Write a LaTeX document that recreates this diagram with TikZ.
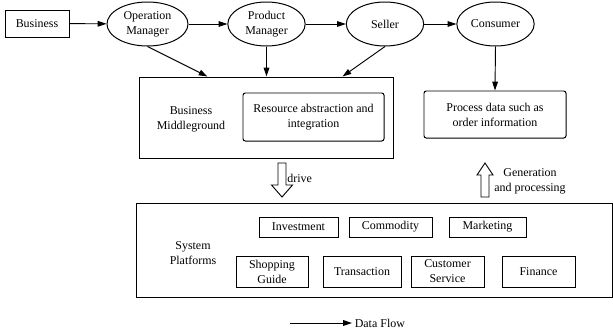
\documentclass[tikz,border=0pt]{standalone}
\usepackage{fontspec}
\setmainfont{Liberation Serif}
\usetikzlibrary{arrows.meta,shapes,positioning}
\tikzset{
  box/.style={draw,line width=0.85pt,inner sep=1pt,align=center},
  oval/.style={draw,ellipse,line width=0.85pt,inner sep=0pt,align=center,minimum width=2.32cm,minimum height=1.32cm},
  flow/.style={-{Triangle[length=7.5pt,width=4.8pt]},line width=0.8pt}
}
\begin{document}
\begin{tikzpicture}[x=0.03cm,y=-0.03cm,font=\fontsize{10.2}{12.8}\selectfont]
\useasboundingbox(0,0)rectangle(613,333);
% top row
\node[box,minimum width=1.92cm,minimum height=0.81cm](bus)at(37,23.5){Business};
\node[oval,minimum width=2.43cm](om)at(147.5,24){Operation\\Manager};
\node[oval](pm)at(266.5,24){Product\\Manager};
\node[oval](sel)at(385,24){Seller};
\node[oval](con)at(495.5,24){Consumer};
\draw[flow](bus)--(om);
\draw[flow](om)--(pm);
\draw[flow](pm)--(sel);
\draw[flow](sel)--(con);
% middle
\node[box,minimum width=7.59cm,minimum height=2.43cm](mid)at(266.5,117.5){};
\node[align=center](midtxt)at(191,119){Business\\Middleground};
\node[box,rounded corners=2pt,minimum width=4.23cm,minimum height=1.44cm](res)at(313.5,117){Resource abstraction and\\integration};
\node[box,rounded corners=2pt,minimum width=4.26cm,minimum height=1.41cm](proc)at(495,114.5){Process data such as\\order information};
\draw[flow](om.south)--([xshift=2.04cm]mid.north west);
\draw[flow](pm.south)--(pm.south|-mid.north);
\draw[flow](sel.south)--([xshift=-1.53cm]mid.north east);
\draw[flow](con.south)--(proc.north);
% hollow arrows
\draw[line width=0.8pt](278,163)--(286,163)--(286,185)--(292.5,185)--(282,197)--(271.5,185)--(278,185)--cycle;
\node[right,inner sep=1pt](drv)at(286,178){drive};
\draw[line width=0.8pt](481,197)--(481,175)--(477,175)--(485,163)--(493,175)--(489,175)--(489,197)--cycle;
\node[align=center,inner sep=0pt](gen)at(530,181){Generation\\and processing};
% platforms
\node[box,minimum width=14.25cm,minimum height=2.82cm](sys)at(374.5,250){};
\node[align=center](systxt)at(193,253){System\\Platforms};
\node[box,minimum width=2.37cm,minimum height=0.6cm](inv)at(298.5,227){Investment};
\node[box,minimum width=2.49cm,minimum height=0.6cm](com)at(390.5,227){Commodity};
\node[box,minimum width=2.31cm,minimum height=0.6cm](mkt)at(487.5,227){Marketing};
\node[box,minimum width=2.16cm,minimum height=0.93cm](shop)at(272,271.5){Shopping\\Guide};
\node[box,minimum width=2.34cm,minimum height=0.93cm](tra)at(362,271.5){Transaction};
\node[box,minimum width=2.19cm,minimum height=0.93cm](cus)at(447.5,271.5){Customer\\Service};
\node[box,minimum width=2.19cm,minimum height=0.93cm](fin)at(538.5,271.5){Finance};
% legend
\coordinate(lg)at(290,323);
\draw[flow](lg)--++(62,0)node[right,black,inner sep=2pt](lgtxt){Data Flow};
\end{tikzpicture}
\end{document}
